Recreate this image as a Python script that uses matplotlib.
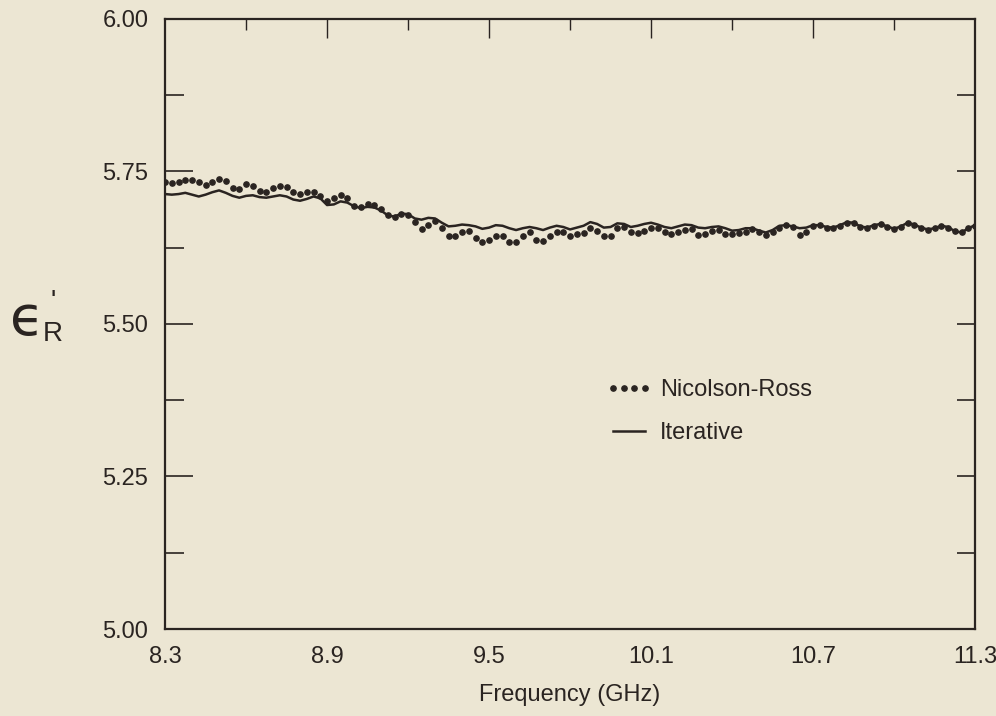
import numpy as np
import matplotlib.pyplot as plt
from matplotlib.ticker import MultipleLocator, FixedLocator
from matplotlib.legend_handler import HandlerLine2D

plt.rcParams['font.family'] = ['Liberation Sans', 'DejaVu Sans']

# frequency sweep, 8.3 - 11.3 GHz in 0.025 GHz steps
freq = np.linspace(8.3, 11.3, 121)

nicolson_ross = [
    5.733, 5.731, 5.733, 5.736, 5.736, 5.733, 5.728, 5.733, 5.737, 5.734,
    5.723, 5.722, 5.730, 5.727, 5.718, 5.716, 5.723, 5.727, 5.724, 5.716,
    5.713, 5.717, 5.717, 5.709, 5.701, 5.706, 5.711, 5.706, 5.694, 5.692,
    5.696, 5.695, 5.689, 5.679, 5.676, 5.681, 5.678, 5.667, 5.656, 5.662,
    5.669, 5.657, 5.644, 5.645, 5.650, 5.652, 5.641, 5.635, 5.638, 5.645,
    5.644, 5.635, 5.635, 5.644, 5.650, 5.637, 5.636, 5.644, 5.650, 5.651,
    5.644, 5.647, 5.649, 5.657, 5.653, 5.645, 5.645, 5.658, 5.659, 5.651,
    5.649, 5.652, 5.658, 5.657, 5.651, 5.647, 5.651, 5.654, 5.656, 5.646,
    5.648, 5.652, 5.654, 5.647, 5.647, 5.649, 5.650, 5.656, 5.651, 5.646,
    5.651, 5.658, 5.662, 5.659, 5.646, 5.651, 5.661, 5.662, 5.658, 5.657,
    5.661, 5.666, 5.665, 5.659, 5.657, 5.661, 5.664, 5.659, 5.655, 5.659,
    5.665, 5.663, 5.657, 5.654, 5.657, 5.660, 5.658, 5.652, 5.650, 5.657,
    5.661,
]

iterative = [
    5.713, 5.712, 5.713, 5.715, 5.712, 5.709, 5.712, 5.716, 5.719, 5.715,
    5.710, 5.707, 5.710, 5.711, 5.708, 5.707, 5.709, 5.711, 5.709, 5.704,
    5.702, 5.705, 5.709, 5.706, 5.695, 5.696, 5.701, 5.699, 5.693, 5.690,
    5.692, 5.691, 5.686, 5.678, 5.676, 5.681, 5.680, 5.673, 5.671, 5.674,
    5.673, 5.666, 5.660, 5.661, 5.663, 5.662, 5.660, 5.656, 5.658, 5.662,
    5.661, 5.657, 5.654, 5.657, 5.659, 5.657, 5.654, 5.658, 5.661, 5.659,
    5.655, 5.658, 5.661, 5.667, 5.664, 5.658, 5.659, 5.665, 5.664, 5.659,
    5.661, 5.664, 5.666, 5.663, 5.659, 5.657, 5.660, 5.663, 5.662, 5.658,
    5.657, 5.659, 5.660, 5.657, 5.653, 5.654, 5.657, 5.657, 5.653, 5.650,
    5.654, 5.661, 5.662, 5.660, 5.657, 5.658, 5.662, 5.662, 5.659, 5.658,
    5.662, 5.667, 5.666, 5.660, 5.658, 5.662, 5.664, 5.660, 5.656, 5.660,
    5.666, 5.663, 5.658, 5.655, 5.657, 5.661, 5.659, 5.652, 5.650, 5.657,
    5.662,
]

xticks = [8.3, 8.9, 9.5, 10.1, 10.7, 11.3]
yticks = [5.00, 5.25, 5.50, 5.75, 6.00]
top_major = [8.9, 9.5, 10.1, 10.7]
top_minor = [8.6, 9.2, 9.8, 10.4, 11.0]

bg = "#ece6d3"
ink = "#2a2421"

fig = plt.figure(figsize=(9.96, 7.16), dpi=100, facecolor=bg)
ax = fig.add_axes([0.1657, 0.1215, 0.8133, 0.852])
ax.set_facecolor(bg)

ax.plot(freq, nicolson_ross, linestyle="none", marker="o", markersize=3.8,
        color=ink, label="Nicolson-Ross", zorder=3)
ax.plot(freq, iterative, color=ink, linewidth=1.8, label="Iterative",
        solid_joinstyle="round", zorder=2)

ax.set_xlim(8.3, 11.3)
ax.set_ylim(5.0, 6.0)

for s in ax.spines.values():
    s.set_color(ink)
    s.set_linewidth(1.6)

ax.set_xticks(xticks)
ax.set_xticklabels([f"{v:g}" for v in xticks])
ax.tick_params(axis="x", which="both", length=0, pad=12, labelsize=17,
               labelcolor=ink)

ax.set_yticks(yticks)
ax.set_yticklabels([f"{v:.2f}" for v in yticks])
ax.yaxis.set_minor_locator(MultipleLocator(0.125))
ax.tick_params(axis="y", which="major", direction="in", length=20, width=1.2,
               color=ink, pad=12, labelsize=17, labelcolor=ink)
ax.tick_params(axis="y", which="minor", direction="in", length=14, width=1.2,
               color=ink)

# right axis ticks
ay = ax.secondary_yaxis("right")
ay.yaxis.set_major_locator(FixedLocator([5.125, 5.25, 5.375, 5.5, 5.625, 5.75, 5.875]))
ay.tick_params(direction="in", length=13, width=1.2, color=ink, labelright=False)
ay.spines["right"].set_visible(False)

# top axis ticks
axt = ax.secondary_xaxis("top")
axt.xaxis.set_major_locator(FixedLocator(top_major))
axt.xaxis.set_minor_locator(FixedLocator(top_minor))
axt.tick_params(which="major", direction="in", length=14, width=1.0, color=ink,
                labeltop=False)
axt.tick_params(which="minor", direction="in", length=8, width=1.0, color=ink)
axt.spines["top"].set_visible(False)

ax.set_xlabel("Frequency (GHz)", fontsize=17, color=ink, labelpad=12)

# y label: epsilon prime sub R
fig.text(0.010, 1 - 320 / 716, "\u03f5", fontsize=40, color=ink,
         family="DejaVu Sans", va="center", ha="left")
fig.text(0.051, 1 - 302 / 716, "'", fontsize=20, color=ink,
         va="center", ha="left")
fig.text(0.043, 1 - 334 / 716, "R", fontsize=20, color=ink,
         va="center", ha="left")

leg = ax.legend(loc="upper left", bbox_to_anchor=(0.553, 0.41), frameon=False,
                fontsize=17, handlelength=1.35, handletextpad=0.65,
                labelspacing=0.9, borderpad=0, borderaxespad=0,
                handler_map={ax.lines[0]: HandlerLine2D(numpoints=4, marker_pad=0.0)})
for t in leg.get_texts():
    t.set_color(ink)

fig.savefig("out.png", dpi=100, facecolor=bg)
